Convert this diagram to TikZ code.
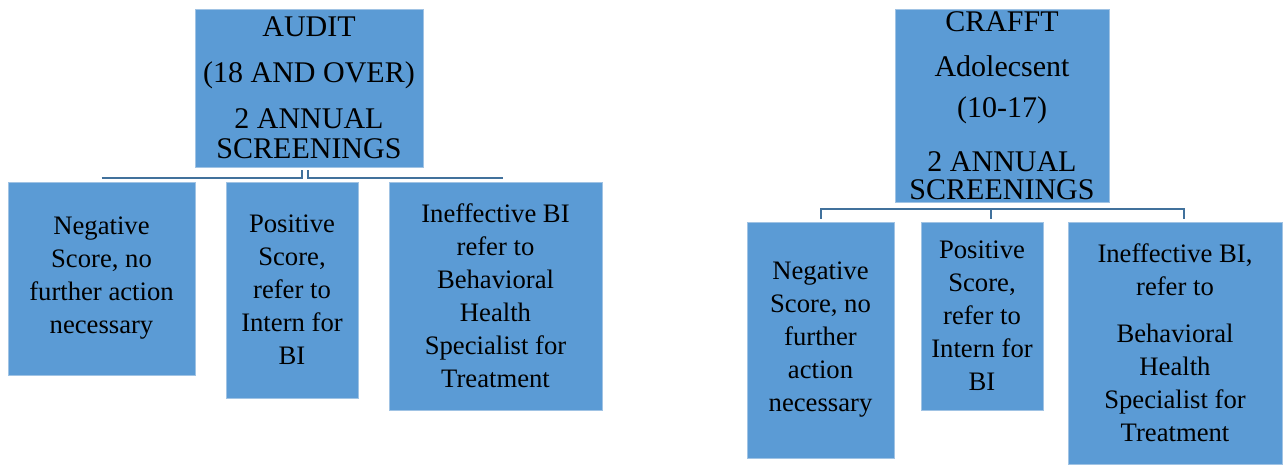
\documentclass[tikz,border=0pt]{standalone}
\usepackage{fontspec}
\setmainfont{Liberation Serif}
\usetikzlibrary{fit}
\definecolor{boxblue}{RGB}{91,155,213}
\definecolor{boxedge}{RGB}{160,195,228}
\definecolor{linkblue}{RGB}{65,113,156}

\begin{document}
\begin{tikzpicture}[x=0.75pt, y=-0.75pt,
    block/.style ={rectangle, draw=boxedge, line width=0.6pt, fill=boxblue,
      inner sep=0pt},
    text_top/.style ={inner sep=0pt, align=center,
      font=\fontsize{22.5}{21.75}\selectfont},
    text_child/.style ={inner sep=0pt, align=center,
      font=\fontsize{20}{24.75}\selectfont},
    line/.style ={draw=linkblue, line width=1.5pt}]

    \useasboundingbox (0,0) rectangle (1283,465);

    % Place boxes, AUDIT tree on the left
    \node [block, fit={(195,9) (423,167)}] (audit) {};
    \node [block, fit={(8,182) (195,375)}] (audNeg) {};
    \node [block, fit={(226,182) (358,398)}] (audPos) {};
    \node [block, fit={(389,182) (602,410)}] (audRef) {};

    % CRAFFT tree on the right
    \node [block, fit={(895,9) (1109,202)}] (crafft) {};
    \node [block, fit={(747,222) (894,458)}] (crNeg) {};
    \node [block, fit={(921,222) (1043,410)}] (crPos) {};
    \node [block, fit={(1068,222) (1282,464)}] (crRef) {};

    % texts in the middle of the boxes
    \node [text_top] (auditTxt) at (audit.center)
      {AUDIT\\[12.75pt] (18 AND OVER)\\[12.75pt] 2 ANNUAL\\[0.75pt] SCREENINGS};
    \node [text_child] (audNegTxt) at (audNeg.center)
      {Negative\\ Score, no\\ further action\\ necessary};
    \node [text_child] (audPosTxt) at (audPos.center)
      {Positive\\ Score,\\ refer to\\ Intern for\\ BI};
    \node [text_child] (audRefTxt) at (audRef.center)
      {Ineffective BI\\ refer to\\ Behavioral\\ Health\\ Specialist for\\ Treatment};
    \node [text_top] (crafftTxt) at (crafft.center)
      {CRAFFT\\[12pt] Adolecsent\\[9pt] (10-17)\\[18.75pt] 2 ANNUAL\\[-1pt] SCREENINGS};
    \node [text_child] (crNegTxt) at (crNeg.center)
      {Negative\\ Score, no\\ further\\ action\\ necessary};
    \node [text_child] (crPosTxt) at (crPos.center)
      {Positive\\ Score,\\ refer to\\ Intern for\\ BI};
    \node [text_child] (crRefTxt) at (crRef.center)
      {Ineffective BI,\\ refer to\\[10.5pt] Behavioral\\ Health\\ Specialist for\\ Treatment};

    \begin{scope}[every path/.style=line]
    % bar under AUDIT, split in the middle
    \coordinate (audBar) at ([yshift=-8.25pt]audit.south);
    \coordinate (audTickL) at ([xshift=-5.25pt,yshift=-2.25pt]audit.south);
    \coordinate (audTickR) at ([xshift=-0.75pt,yshift=-2.25pt]audit.south);
    \coordinate (audEnd) at ([xshift=5.6pt]audRef.north);
    \path (audNeg.north |- audBar) -- (audTickL |- audBar) -- (audTickL);
    \path (audTickR) -- (audTickR |- audBar) -- (audEnd |- audBar);

    % bar under CRAFFT with drops
    \coordinate (crBar) at ([yshift=-5.25pt]crafft.south);
    \coordinate (crDropL) at ([yshift=2.25pt]crNeg.north);
    \coordinate (crDropM) at ([xshift=6.75pt,yshift=2.25pt]crPos.north);
    \coordinate (crDropR) at ([xshift=6.75pt,yshift=2.25pt]crRef.north);
    \path (crDropL) -- (crDropL |- crBar) -- (crDropR |- crBar) -- (crDropR);
    \path (crDropM |- crBar) -- (crDropM);
    \end{scope}

\end{tikzpicture}
\end{document}
